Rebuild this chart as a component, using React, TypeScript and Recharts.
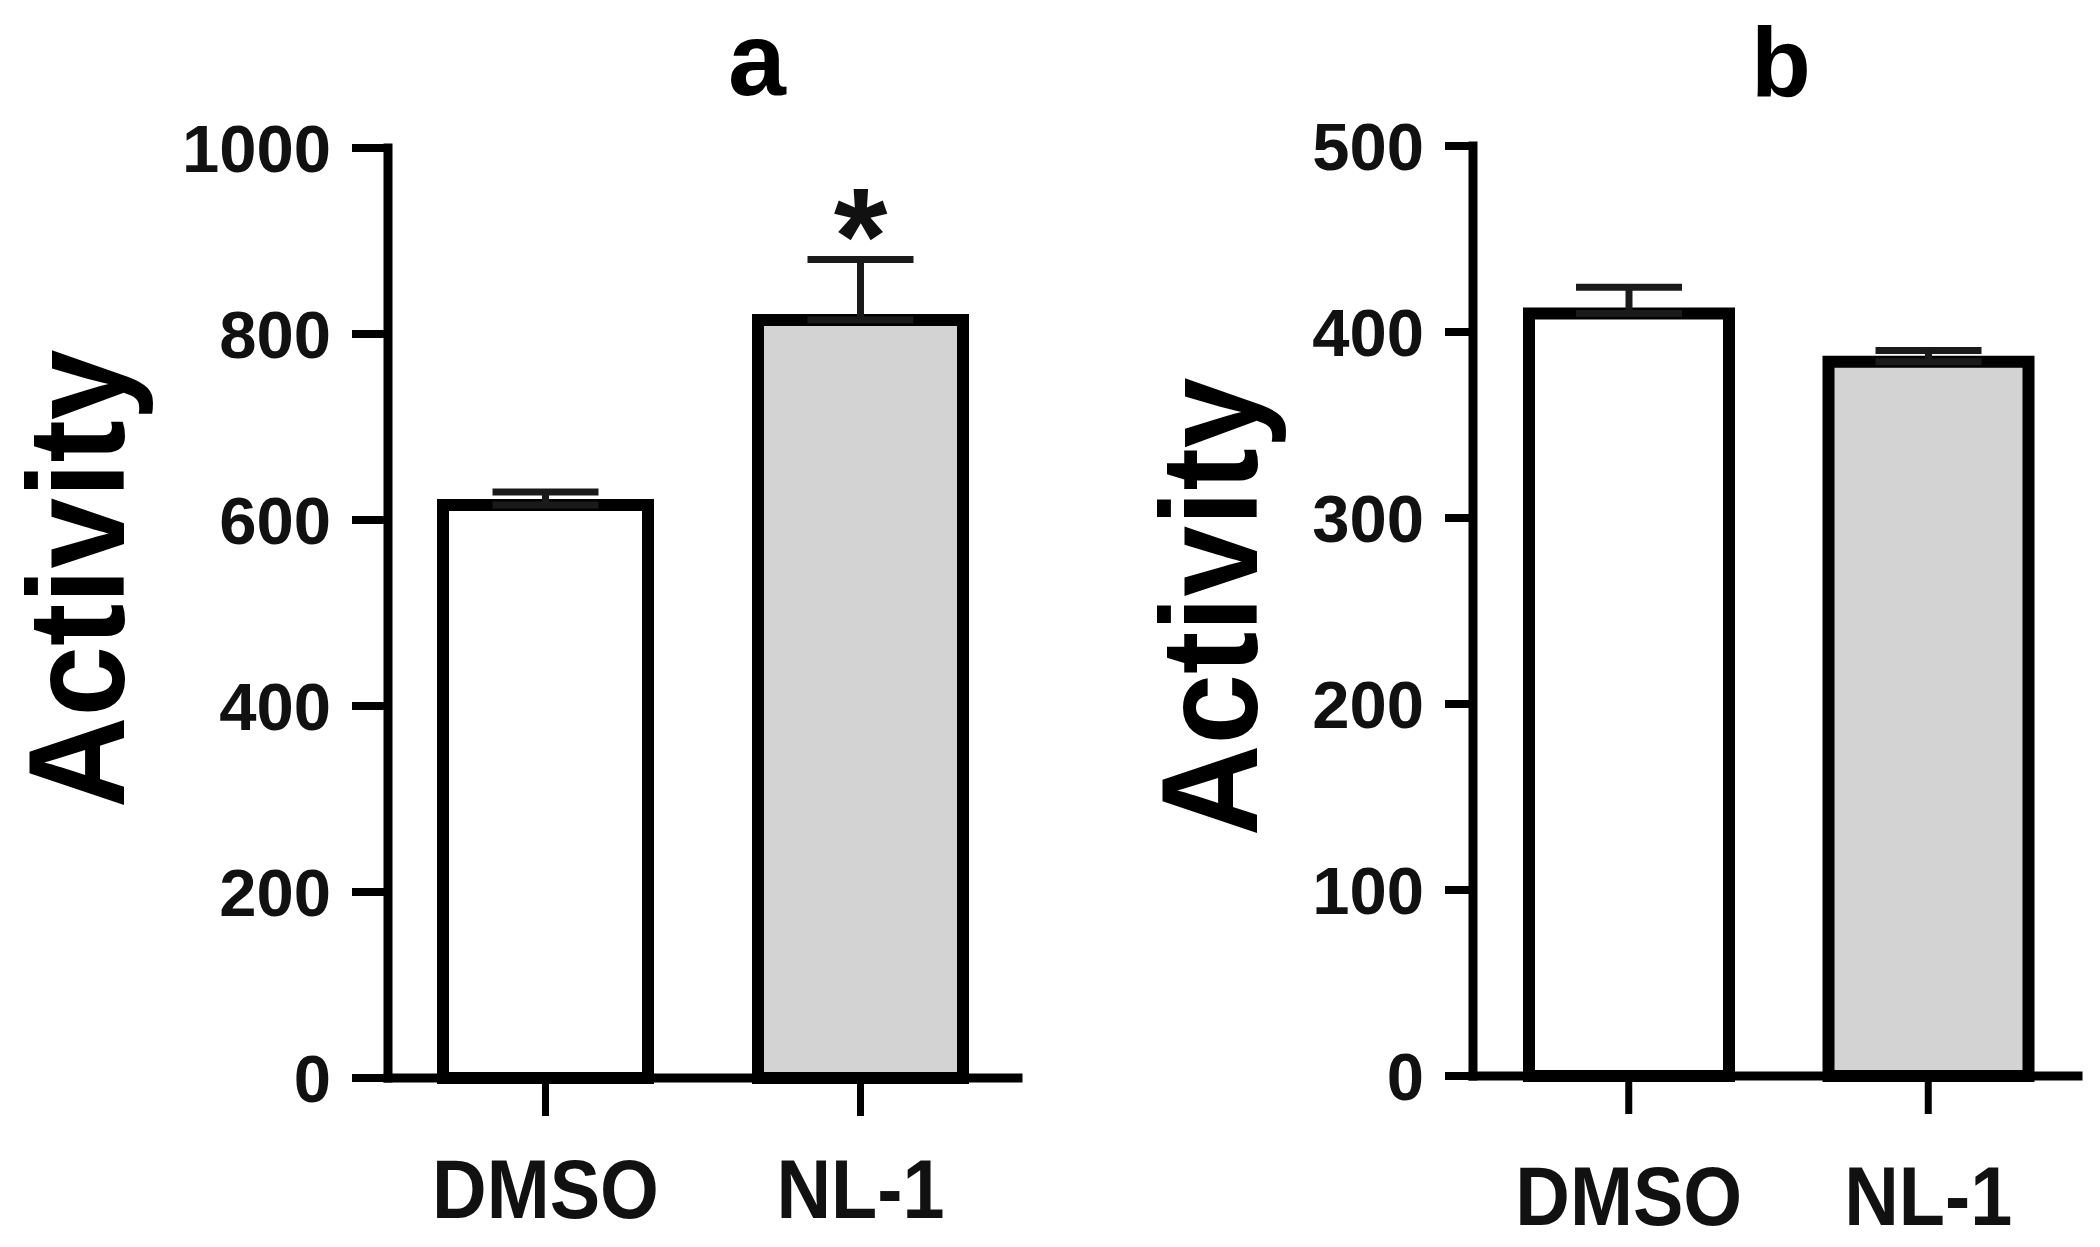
import { BarChart, Bar, XAxis, YAxis, Cell, ErrorBar, LabelList } from 'recharts';

const groups = ['DMSO', 'NL-1'];

const activityA = [616, 815];
const errorA = [14, 65];
const marksA = ['', '*'];

const activityB = [410, 384];
const errorB = [14, 6];
const marksB = ['', ''];

const ticksA = [0, 200, 400, 600, 800, 1000];
const ticksB = [0, 100, 200, 300, 400, 500];

const FONT = '"Liberation Sans", Arial, Helvetica, sans-serif';
const barFills = ['#ffffff', '#d3d3d3'];

function buildRows(values: number[], errors: number[], marks: string[]) {
  return groups.map((group, i) => ({
    group,
    value: values[i],
    err: [0, errors[i]],
    mark: marks[i],
  }));
}

function ValueTick({ x, y, payload }: any) {
  return (
    <text
      x={x}
      y={y}
      dy="0.36em"
      textAnchor="end"
      fontFamily={FONT}
      fontWeight="bold"
      fontSize={67}
      fill="#111"
    >
      {payload.value}
    </text>
  );
}

function GroupTick({ x, y, payload }: any) {
  return (
    <g transform={`translate(${x},${y + 60})`}>
      <text
        transform="scale(0.9,1)"
        textAnchor="middle"
        fontFamily={FONT}
        fontWeight="bold"
        fontSize={84}
        fill="#111"
      >
        {payload.value}
      </text>
    </g>
  );
}

function StarLabel(props: any) {
  const { value } = props;
  if (!value) return null;
  const box = props.viewBox ?? props;
  const cx = box.x + box.width / 2;
  return (
    <text
      x={cx}
      y={box.y - 36}
      textAnchor="middle"
      fontFamily={FONT}
      fontWeight="bold"
      fontSize={138}
      fill="#111"
    >
      {value}
    </text>
  );
}

function makeActivityLabel(baseX: number, shiftY: number) {
  return function ActivityLabel(props: any) {
    const vb = props.viewBox;
    const cy = vb.y + vb.height / 2 + shiftY;
    return (
      <text
        transform={`translate(${baseX},${cy}) rotate(-90) scale(0.92,1)`}
        textAnchor="middle"
        fontFamily={FONT}
        fontWeight="bold"
        fontSize={138}
        fill="#000"
      >
        Activity
      </text>
    );
  };
}

type PanelProps = {
  rows: ReturnType<typeof buildRows>;
  ticks: number[];
  margin: { top: number; right: number; bottom: number; left: number };
  yTickSize: number;
  xTickMargin: number;
  xPadLeft: number;
  barSize: number;
  labelX: number;
  labelShift: number;
};

function Panel({ rows, ticks, margin, yTickSize, xTickMargin, xPadLeft, barSize, labelX, labelShift }: PanelProps) {
  return (
    <BarChart width={1050} height={1247} data={rows} margin={margin}>
      <XAxis
        dataKey="group"
        height={150}
        padding={{ left: xPadLeft, right: 0 }}
        axisLine={{ stroke: '#000', strokeWidth: 9, strokeLinecap: 'square' }}
        tickLine={{ stroke: '#000', strokeWidth: 7 }}
        tickSize={38}
        tickMargin={xTickMargin}
        tick={<GroupTick />}
        interval={0}
      />
      <YAxis
        width={200}
        domain={[ticks[0], ticks[ticks.length - 1]]}
        ticks={ticks}
        interval={0}
        axisLine={{ stroke: '#000', strokeWidth: 9, strokeLinecap: 'square' }}
        tickLine={{ stroke: '#000', strokeWidth: 8 }}
        tickSize={yTickSize}
        tickMargin={21}
        tick={<ValueTick />}
        label={{ content: makeActivityLabel(labelX, labelShift) }}
      />
      <Bar
        dataKey="value"
        barSize={barSize}
        stroke="#000"
        strokeWidth={12}
        isAnimationActive={false}
      >
        {rows.map((row, i) => (
          <Cell key={row.group} fill={barFills[i]} />
        ))}
        <ErrorBar dataKey="err" direction="y" width={53} strokeWidth={7} stroke="#1a1a1a" />
        <LabelList dataKey="mark" content={<StarLabel />} />
      </Bar>
    </BarChart>
  );
}

export default function App() {
  const rowsA = buildRows(activityA, errorA, marksA);
  const rowsB = buildRows(activityB, errorB, marksB);

  return (
    <div style={{ position: 'absolute', left: 0, top: 0, width: 2100, height: 1247, background: '#fff' }}>
      <div style={{ position: 'absolute', left: 0, top: 0 }}>
        <Panel
          rows={rowsA}
          ticks={ticksA}
          margin={{ top: 148, right: 32, bottom: 19, left: 188 }}
          yTickSize={36}
          xTickMargin={42}
          xPadLeft={0}
          barSize={205}
          labelX={124}
          labelShift={-34}
        />
      </div>
      <div style={{ position: 'absolute', left: 1050, top: 0 }}>
        <Panel
          rows={rowsB}
          ticks={ticksB}
          margin={{ top: 146, right: 22, bottom: 21, left: 223 }}
          yTickSize={28}
          xTickMargin={51}
          xPadLeft={6}
          barSize={200}
          labelX={207}
          labelShift={-4}
        />
      </div>
      <svg width={2100} height={1247} style={{ position: 'absolute', left: 0, top: 0, pointerEvents: 'none' }}>
        <text x={757} y={95} textAnchor="middle" fontFamily={FONT} fontWeight="bold" fontSize={104} fill="#000">
          a
        </text>
        <text x={1781} y={96} textAnchor="middle" fontFamily={FONT} fontWeight="bold" fontSize={98} fill="#000">
          b
        </text>
      </svg>
    </div>
  );
}
